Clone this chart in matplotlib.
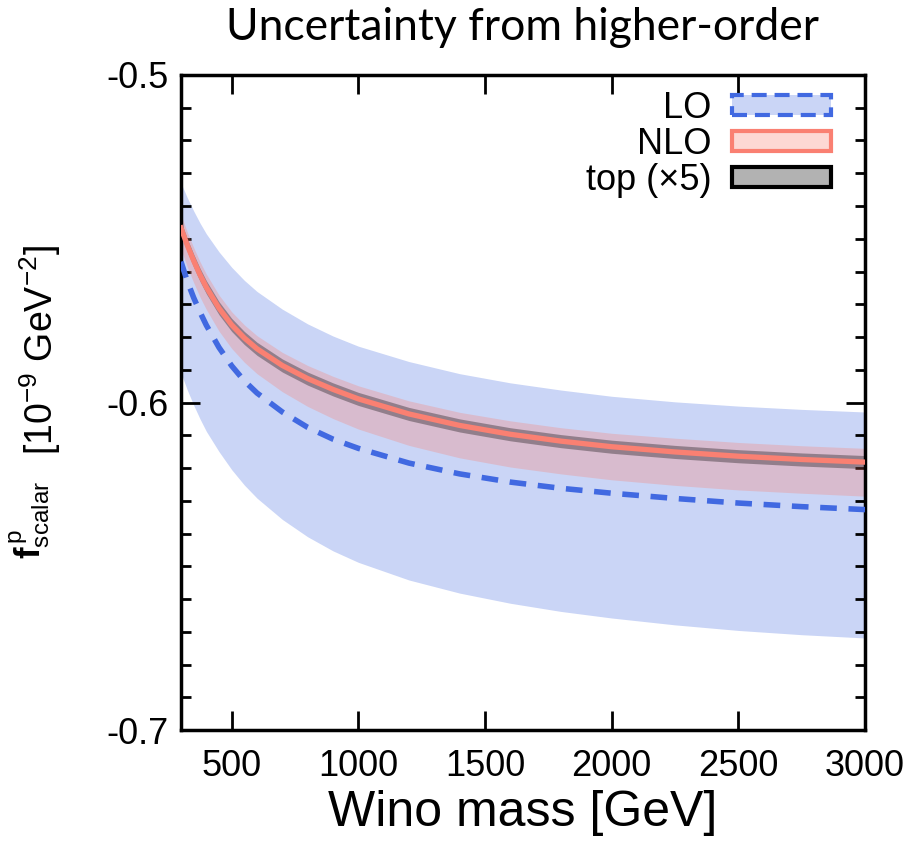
import matplotlib
matplotlib.use("Agg")
import matplotlib.pyplot as plt
import numpy as np
from matplotlib.patches import Patch
from matplotlib.ticker import MultipleLocator, FuncFormatter

plt.rcParams['font.family'] = ['Liberation Sans', 'DejaVu Sans']
plt.rcParams['mathtext.fontset'] = 'custom'
plt.rcParams['mathtext.rm'] = 'Liberation Sans'
plt.rcParams['mathtext.it'] = 'Liberation Sans'
plt.rcParams['mathtext.bf'] = 'Liberation Sans:bold'

# Wino mass [GeV]
mass = [300, 325, 350, 375, 400, 450, 500, 550, 600, 700, 800, 900, 1000,
        1200, 1400, 1600, 1800, 2000, 2250, 2500, 2750, 3000]

# LO: central value, upper and lower edge of the band
lo_c = [-0.5570, -0.5630, -0.5680, -0.5724, -0.5764, -0.5832, -0.5888, -0.5934,
        -0.5971, -0.6029, -0.6076, -0.6112, -0.6140, -0.6185, -0.6218, -0.6243,
        -0.6262, -0.6277, -0.6293, -0.6307, -0.6318, -0.6327]
lo_hi = [-0.5330, -0.5375, -0.5415, -0.5452, -0.5485, -0.5540, -0.5587, -0.5627,
         -0.5661, -0.5715, -0.5760, -0.5797, -0.5828, -0.5875, -0.5912, -0.5940,
         -0.5962, -0.5981, -0.5998, -0.6011, -0.6021, -0.6029]
lo_lo = [-0.5910, -0.5962, -0.6008, -0.6050, -0.6088, -0.6150, -0.6205, -0.6252,
         -0.6292, -0.6357, -0.6410, -0.6453, -0.6488, -0.6542, -0.6582, -0.6613,
         -0.6638, -0.6658, -0.6679, -0.6696, -0.6709, -0.6719]

# NLO: central value and band widths (above / below the central value)
nlo_c = [-0.5467, -0.5520, -0.5567, -0.5610, -0.5648, -0.5712, -0.5763, -0.5803,
         -0.5836, -0.5887, -0.5927, -0.5960, -0.5989, -0.6035, -0.6070, -0.6097,
         -0.6118, -0.6135, -0.6151, -0.6164, -0.6174, -0.6182]
nlo_up = [0.0040, 0.0040, 0.0040, 0.0040, 0.0040, 0.0040, 0.0040, 0.0040,
          0.0040, 0.0040, 0.0040, 0.0040, 0.0040, 0.0040, 0.0040, 0.0041,
          0.0041, 0.0041, 0.0042, 0.0042, 0.0042, 0.0042]
nlo_dn = [0.0065, 0.0066, 0.0067, 0.0068, 0.0068, 0.0070, 0.0072, 0.0074,
          0.0076, 0.0080, 0.0085, 0.0089, 0.0092, 0.0096, 0.0099, 0.0100,
          0.0100, 0.0101, 0.0102, 0.0103, 0.0103, 0.0104]
# top-quark (x5) uncertainty half-width around NLO
top_w = [0.0020] * len(mass)

labels = ['LO', 'NLO', 'top (×5)']

blue = '#4169e1'
salmon = '#fa8072'

nc = np.array(nlo_c)
fig = plt.figure(figsize=(9.12, 8.46), dpi=100)
ax = fig.add_axes([181/912, 1-730/846, 684/912, 655/846])

ax.fill_between(mass, lo_lo, lo_hi, color=blue, alpha=0.28, lw=0, zorder=1)
ax.fill_between(mass, nc - np.array(nlo_dn), nc + np.array(nlo_up), color=salmon,
                alpha=0.3, lw=0, zorder=2)
ax.fill_between(mass, nc - np.array(top_w), nc + np.array(top_w), color='k',
                alpha=0.32, lw=0, zorder=3)
ax.plot(mass, nlo_c, color=salmon, lw=3.8, zorder=4)
ax.plot(mass, lo_c, color=blue, lw=4.0, ls=(0, (3.0, 2.1)), zorder=5)

ax.set_xlim(300, 3000)
ax.set_ylim(-0.7, -0.5)
ax.xaxis.set_major_locator(MultipleLocator(500))
ax.yaxis.set_major_locator(MultipleLocator(0.1))
ax.yaxis.set_minor_locator(MultipleLocator(0.01))
ax.yaxis.set_major_formatter(FuncFormatter(lambda v, p: f"{v:.1f}".replace('\u2212', '-')))
ax.tick_params(which='both', direction='in', top=True, right=True, width=2, labelsize=26)
ax.tick_params(which='major', length=14)
ax.tick_params(which='minor', length=7)
ax.tick_params(axis='x', pad=14)
ax.tick_params(axis='y', pad=9)
for s in ax.spines.values():
    s.set_linewidth(2.5)

ax.set_xlabel('Wino mass [GeV]', fontsize=36, labelpad=4)
ax.set_title('Uncertainty from higher-order', fontsize=32,
             family=['Lato', 'DejaVu Sans'], pad=25)

# y label in two pieces
fig.text(30/912, 1-520/846, r'$\mathbf{f}^{\,p}_{\mathregular{scalar}}$', rotation=90,
         ha='center', va='center', fontsize=25)
fig.text(40/912, 1-350/846, r'[10$^{\mathregular{-9}}$ GeV$^{\mathregular{-2}}$]', rotation=90,
         ha='center', va='center', fontsize=27)

handles = [
    Patch(facecolor=(0.255, 0.412, 0.882, 0.28), edgecolor=blue, lw=3, ls=(0, (3.6, 1.9))),
    Patch(facecolor=(0.98, 0.502, 0.447, 0.3), edgecolor=salmon, lw=3),
    Patch(facecolor=(0, 0, 0, 0.3), edgecolor='k', lw=3),
]
leg = ax.legend(handles, labels, loc='upper right', bbox_to_anchor=(0.951, 0.976),
                frameon=False, markerfirst=False, fontsize=26, borderpad=0,
                borderaxespad=0, handlelength=2.75, handleheight=0.5,
                handletextpad=0.58, labelspacing=0.03)

fig.savefig('out.png', dpi=100)
